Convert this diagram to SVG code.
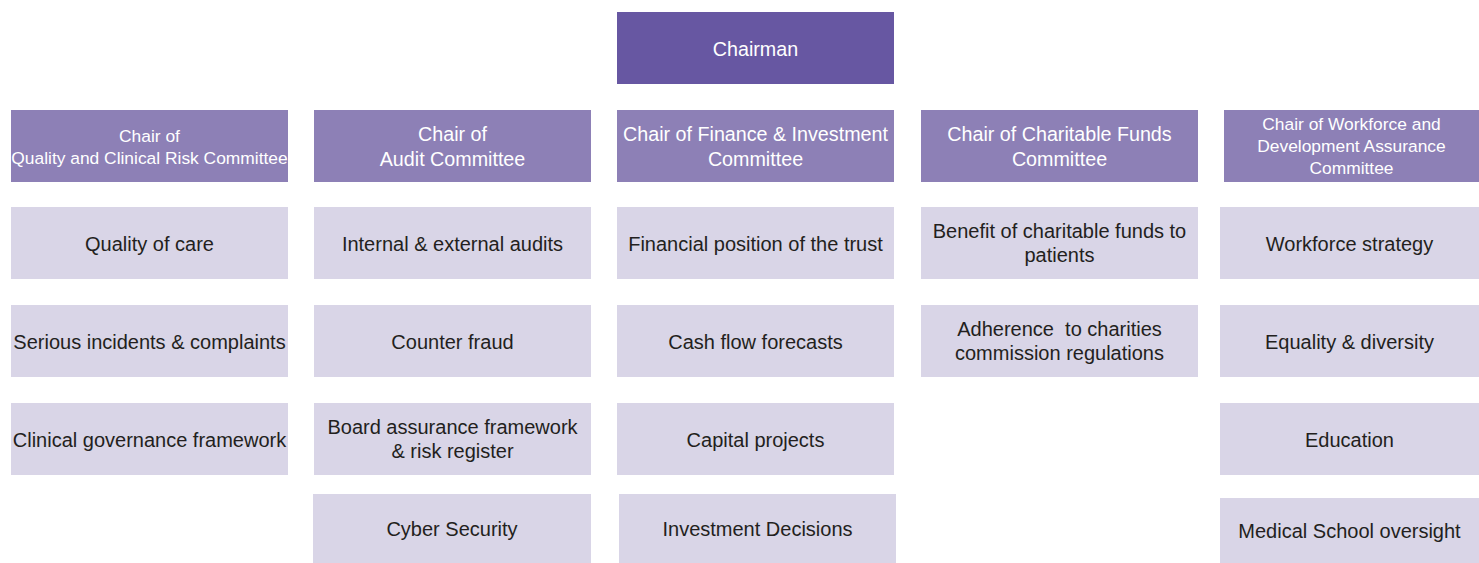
<svg xmlns="http://www.w3.org/2000/svg" width="1479" height="563" viewBox="0 0 1479 563">
<style>
.top{fill:#6757a2}
.chair{fill:#8d80b6}
.item{fill:#d9d5e7}
text{font-family:"Liberation Sans",Arial,sans-serif;text-anchor:middle}
.w{fill:#ffffff;font-size:19.7px}
.ws{fill:#ffffff;font-size:17.4px}
.d{fill:#231f20;font-size:20px}
</style>
<rect width="1479" height="563" fill="#ffffff"/>
<g id="connectors"/>
<g id="chairman"><rect class="top" x="617" y="12" width="277" height="72"/><text class="w" x="755.5" y="55.5">Chairman</text></g>

<g id="chair-quality"><rect class="chair" x="11" y="110" width="277" height="72"/><text class="ws" x="149.5" y="142">Chair of</text><text class="ws" x="149.5" y="164">Quality and Clinical Risk Committee</text></g>
<g id="chair-audit"><rect class="chair" x="314" y="110" width="277" height="72"/><text class="w" x="452.5" y="141">Chair of</text><text class="w" x="452.5" y="166">Audit Committee</text></g>
<g id="chair-finance"><rect class="chair" x="617" y="110" width="277" height="72"/><text class="w" x="755.5" y="141">Chair of Finance &amp; Investment</text><text class="w" x="755.5" y="166">Committee</text></g>
<g id="chair-charitable"><rect class="chair" x="921" y="110" width="277" height="72"/><text class="w" x="1059.5" y="141">Chair of Charitable Funds</text><text class="w" x="1059.5" y="166">Committee</text></g>
<g id="chair-workforce"><rect class="chair" x="1224" y="110" width="255" height="72"/><text class="ws" x="1351.5" y="130">Chair of Workforce and</text><text class="ws" x="1351.5" y="152">Development Assurance</text><text class="ws" x="1351.5" y="174">Committee</text></g>

<g id="quality-of-care"><rect class="item" x="11" y="207" width="277" height="72"/><text class="d" x="149.5" y="250.5">Quality of care</text></g>
<g id="serious-incidents"><rect class="item" x="11" y="305" width="277" height="72"/><text class="d" x="149.5" y="348.5">Serious incidents &amp; complaints</text></g>
<g id="clinical-governance"><rect class="item" x="11" y="403" width="277" height="72"/><text class="d" x="149.5" y="446.5">Clinical governance framework</text></g>

<g id="audits"><rect class="item" x="314" y="207" width="277" height="72"/><text class="d" x="452.5" y="250.5">Internal &amp; external audits</text></g>
<g id="counter-fraud"><rect class="item" x="314" y="305" width="277" height="72"/><text class="d" x="452.5" y="348.5">Counter fraud</text></g>
<g id="board-assurance"><rect class="item" x="314" y="403" width="277" height="72"/><text class="d" x="452.5" y="434">Board assurance framework</text><text class="d" x="452.5" y="458">&amp; risk register</text></g>
<g id="cyber-security"><rect class="item" x="313" y="494" width="278" height="69"/><text class="d" x="452" y="536">Cyber Security</text></g>

<g id="financial-position"><rect class="item" x="617" y="207" width="277" height="72"/><text class="d" x="755.5" y="250.5">Financial position of the trust</text></g>
<g id="cash-flow"><rect class="item" x="617" y="305" width="277" height="72"/><text class="d" x="755.5" y="348.5">Cash flow forecasts</text></g>
<g id="capital-projects"><rect class="item" x="617" y="403" width="277" height="72"/><text class="d" x="755.5" y="446.5">Capital projects</text></g>
<g id="investment-decisions"><rect class="item" x="619" y="494" width="277" height="69"/><text class="d" x="757.5" y="536">Investment Decisions</text></g>

<g id="charitable-benefit"><rect class="item" x="921" y="207" width="277" height="72"/><text class="d" x="1059.5" y="238">Benefit of charitable funds to</text><text class="d" x="1059.5" y="262">patients</text></g>
<g id="charities-regulations"><rect class="item" x="921" y="305" width="277" height="72"/><text class="d" x="1059.5" y="336" xml:space="preserve">Adherence  to charities</text><text class="d" x="1059.5" y="360">commission regulations</text></g>

<g id="workforce-strategy"><rect class="item" x="1220" y="207" width="259" height="72"/><text class="d" x="1349.5" y="250.5">Workforce strategy</text></g>
<g id="equality-diversity"><rect class="item" x="1220" y="305" width="259" height="72"/><text class="d" x="1349.5" y="348.5">Equality &amp; diversity</text></g>
<g id="education"><rect class="item" x="1220" y="403" width="259" height="72"/><text class="d" x="1349.5" y="446.5">Education</text></g>
<g id="medical-school"><rect class="item" x="1220" y="498" width="259" height="65"/><text class="d" x="1349.5" y="538">Medical School oversight</text></g>
</svg>
